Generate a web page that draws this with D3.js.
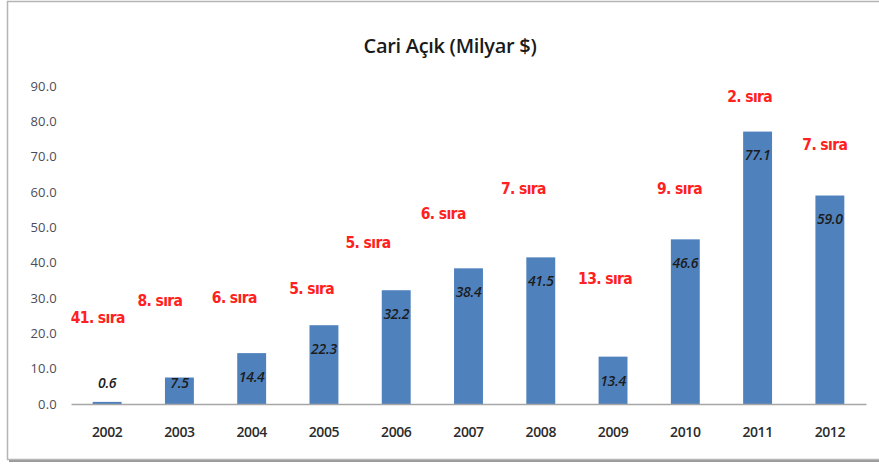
<!DOCTYPE html>
<html>
<head>
<meta charset="utf-8">
<script src="https://cdn.jsdelivr.net/npm/d3@7"></script>
<style>
  body { margin: 0; background: #fff; }
  svg { display: block; }
</style>
</head>
<body>
<script>
// yearly current account deficit, billion $
var years = ["2002","2003","2004","2005","2006","2007","2008","2009","2010","2011","2012"];
var deficit = [0.6, 7.5, 14.4, 22.3, 32.2, 38.4, 41.5, 13.4, 46.6, 77.1, 59.0];
// world ranking labels ("n. sıra") and the level (in axis units) where each sits
var ranks = ["41. sıra","8. sıra","6. sıra","5. sıra","5. sıra","6. sıra","7. sıra","13. sıra","9. sıra","2. sıra","7. sıra"];
var rankLevel = [24.6, 29.4, 30.0, 32.8, 45.6, 54.0, 61.0, 35.4, 61.0, 86.9, 73.3];
var rankShift = [-0.13, -0.27, -0.24, -0.17, -0.39, -0.35, -0.24, -0.11, -0.08, -0.11, -0.07]; // fraction of a band
var yTicks = [0, 10, 20, 30, 40, 50, 60, 70, 80, 90];

var W = 879, H = 465;
var svg = d3.select("body").append("svg").attr("width", W).attr("height", H);

// chart frame with a soft shadow
svg.append("rect").attr("x", 9).attr("y", 4).attr("width", W).attr("height", 458)
   .attr("fill", "#9a9a9a");
svg.append("rect").attr("x", 7.5).attr("y", 1.5).attr("width", W).attr("height", 458)
   .attr("fill", "#fff").attr("stroke", "#b5b5b5").attr("stroke-width", 1.5);

svg.append("text").attr("x", 450).attr("y", 53).attr("text-anchor", "middle")
   .attr("font-family", "'Open Sans', sans-serif").attr("font-size", 20).attr("font-weight", 600)
   .attr("letter-spacing", -0.3)
   .attr("fill", "#1a1a1a").text("Cari Açık (Milyar $)");

var x = d3.scaleBand().domain(years).range([71, 866]).paddingInner(0.6).paddingOuter(0.3);
var y = d3.scaleLinear().domain([0, 90]).range([404, 86]);

// y tick labels (no axis line)
var yAxis = svg.append("g").attr("transform", "translate(57,0)")
   .call(d3.axisLeft(y).tickValues(yTicks).tickSize(0).tickFormat(d3.format(".1f")));
yAxis.select(".domain").remove();
yAxis.selectAll("text").attr("x", 0)
   .attr("font-family", "'Open Sans', sans-serif").attr("font-size", 13).attr("letter-spacing", 0.2)
   .attr("fill", "#4c4c58");

// bars
svg.selectAll("rect.bar").data(deficit).enter().append("rect")
   .attr("class", "bar")
   .attr("x", function(d, i) { return x(years[i]); })
   .attr("y", function(d) { return y(d); })
   .attr("width", x.bandwidth())
   .attr("height", function(d) { return y(0) - y(d); })
   .attr("fill", "#4f81bd");

// baseline + year labels
var xAxis = svg.append("g").attr("transform", "translate(0," + y(0) + ")")
   .call(d3.axisBottom(x).tickSize(0).tickPadding(23));
xAxis.select(".domain").attr("stroke", "#a6a6a6").attr("stroke-width", 1.5);
xAxis.selectAll("text")
   .attr("font-family", "'Open Sans', sans-serif").attr("font-size", 14).attr("font-weight", 600)
   .attr("letter-spacing", -0.4).attr("fill", "#2b2b2b");

// value labels
svg.selectAll("text.val").data(deficit).enter().append("text")
   .attr("class", "val")
   .attr("x", function(d, i) { return x(years[i]) + x.bandwidth() / 2; })
   .attr("y", function(d) { return Math.min(y(d) + 24, y(0) - 21); })
   .attr("dy", "0.35em").attr("text-anchor", "middle")
   .attr("font-family", "'Open Sans', sans-serif").attr("font-size", 14).attr("font-style", "italic")
   .attr("font-weight", 600).attr("letter-spacing", -0.3)
   .attr("fill", "#1c1c1c").text(function(d) { return d.toFixed(1); });

// ranking labels
svg.selectAll("text.rank").data(ranks).enter().append("text")
   .attr("class", "rank")
   .attr("x", function(d, i) { return x(years[i]) + x.bandwidth() / 2 + rankShift[i] * x.step(); })
   .attr("y", function(d, i) { return y(rankLevel[i]); })
   .attr("dy", "0.35em").attr("text-anchor", "middle")
   .attr("font-family", "'DejaVu Sans Condensed', 'DejaVu Sans', sans-serif").attr("font-stretch", "condensed")
   .attr("font-size", 15.5).attr("font-weight", "bold").attr("letter-spacing", -0.6)
   .attr("fill", "#ff2020").text(function(d) { return d; });
</script>
</body>
</html>
